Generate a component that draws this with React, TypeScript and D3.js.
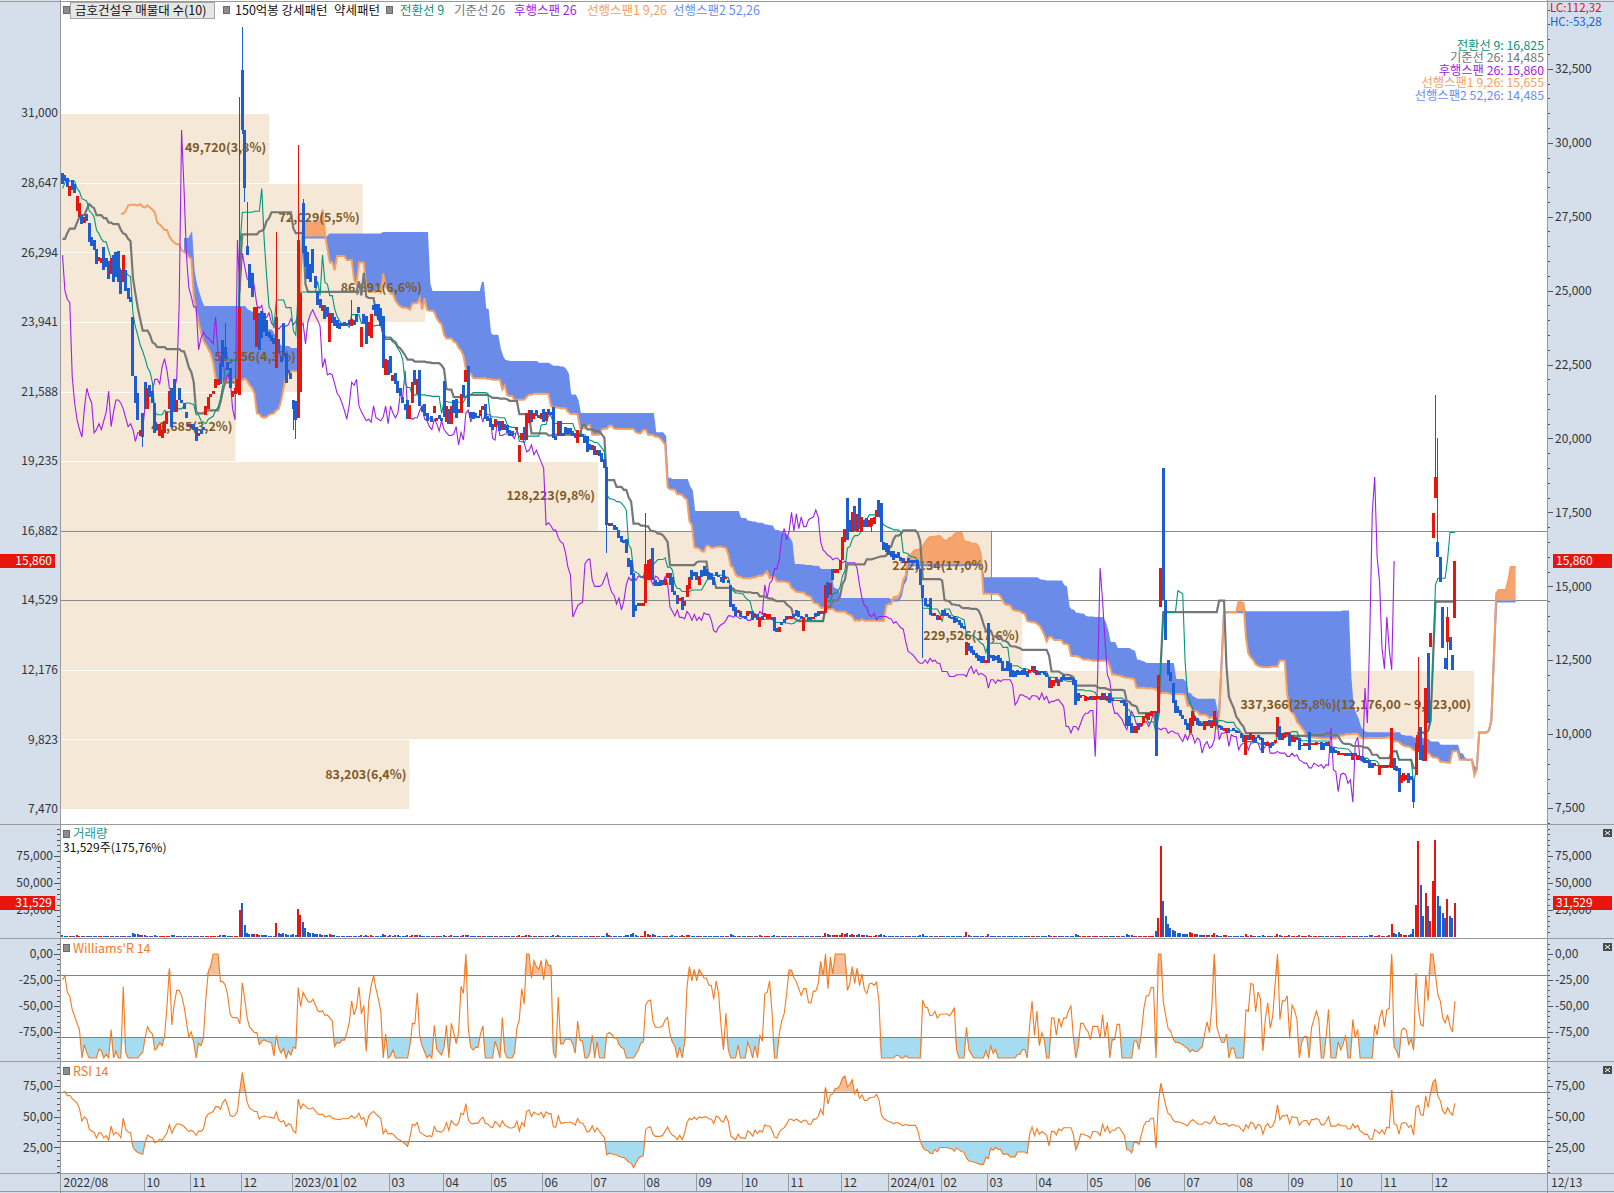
import React, { useEffect, useMemo } from 'react';
import * as d3 from 'd3';

type Pair = [number, number];

// ---------------- DATA ----------------
// 26 trading days before the visible window (needed by the indicators)
const preBars: Pair[] = [
  [24800,24500],[24500,24300],[24300,24700],[24700,25100],[25100,25300],[25300,25000],[25000,25400],[25400,25800],[25800,26100],[26100,25900],
  [25900,26300],[26300,26700],[26700,27000],[27000,26800],[26800,27300],[27300,27600],[27600,27900],[27900,27700],[27700,28100],[28100,28400],
  [28400,28800],[28800,29100],[29100,28700],[28700,28900],[28900,29200],[29200,28950],
];

// [open, close] per trading day, visible index 0-94 (2022/08 - 2022/12)
const bars2022: Pair[] = [
  [28970,28600],[28900,28700],[28800,28500],[28200,28550],[28750,28400],[28600,28300],[27700,28200],[27500,27950],[27550,27250],[27300,27500],
  [27600,27350],[27300,26650],[26800,26500],[26700,26380],[26400,25900],[26000,26150],[25950,26100],[26480,25700],[26100,25800],[26000,25400],
  [25550,26100],[26200,25300],[26300,25450],[26350,25300],[25700,24900],[25300,26200],[25700,25000],[25100,24700],[24800,24600],[24100,22100],
  [22100,21200],[21540,20630],[20100,20300],[20860,20050],[21900,21000],[21000,21700],[21800,21400],[21600,21200],[21200,20190],[20500,20300],
  [20100,20500],[20000,20300],[20200,20600],[20500,20900],[21000,21600],[21700,20400],[22000,20900],[20900,21300],[21700,21300],[21300,21200],
  [21200,21000],[20900,20700],[20500,20400],[20350,20500],[20500,20300],[20400,19900],[20100,20200],[20300,20150],[20400,20300],[20800,21100],
  [21000,21400],[21400,21500],[21500,21600],[21700,22000],[21800,22000],[22550,21850],[23330,22420],[23100,22700],[22600,22300],[22400,21700],
  [21400,21600],[21500,21700],[21550,22000],[21470,24450],[32460,30430],[30430,28470],[26500,26200],[25900,25100],[25600,24800],[24000,24450],
  [23100,24450],[24250,23000],[24300,23400],[24250,23600],[24000,23450],[23600,23400],[23500,23300],[23400,23200],[22380,24110],[23350,22900],
  [22800,22600],[23900,22800],[22900,21860],[22300,22200],[22200,22000],
];

// visible index 95-339 (2023)
const bars2023: Pair[] = [
  [21300,21000],[21270,20630],[20700,26710],[21570,24920],[27970,26270],
  [26500,25800],[26300,25400],[25900,25300],[26400,25600],[25500,25100],[25000,24500],[24700,24400],[24300,24500],[24500,24050],[24450,24100],
  [23260,24250],[24250,23900],[24100,23800],[24000,23750],[23900,23700],[23900,23800],[23950,23800],[23900,23800],[24000,23850],[23800,24050],
  [24000,23850],[24200,23950],[24450,24230],[23100,23770],[24200,23900],[24150,23200],[23450,23950],[23400,24200],[24500,24350],[24550,24150],
  [24550,24000],[24400,23800],[24150,22400],[22150,22700],[22650,22150],[22800,22200],[21950,22150],[22200,21850],[21950,21530],[21700,21420],
  [21400,21200],[21150,20950],[21300,20650],[20650,21130],[21200,21900],[22300,21800],[21500,22000],[22300,21100],[21100,20900],[21150,20750],
  [20850,20600],[20700,20650],[20750,20550],[20850,21100],[20600,20700],[20800,20650],[20700,20600],[21950,20730],[20550,21100],[21000,20500],
  [20500,21100],[21300,20850],[21350,20700],[21000,20850],[20850,21500],[21800,21400],[21900,22300],[22450,21050],[20900,20700],[20900,20650],
  [20850,20700],[20750,20700],[20750,20950],[20950,21100],[21150,20650],[20750,20600],[20700,20400],[20500,20300],[20400,20650],[20600,20500],
  [20600,20250],[20300,20600],[20500,20300],[20450,20200],[20300,20100],[20250,20100],[20200,20150],[20300,20400],[19200,19780],[19950,20200],
  [20400,19950],[19950,20860],[20520,20960],[20950,20550],[20650,20850],[20950,20750],[20800,20700],[20650,20850],[21000,20550],[20600,20900],
  [21000,20800],[20900,20800],[21060,20010],[20100,19950],[20100,20600],[20600,20100],[20200,20100],[20400,20150],[20350,20150],[20350,20150],
  [20250,20100],[20200,20000],[19850,20280],[20150,20050],[20150,20050],[20100,19850],[20100,19550],[19800,19600],[19600,19780],[19750,19450],
  [19450,19600],[19600,19400],[19500,19200],[19300,19000],[19040,17080],[17050,17150],[17150,17050],[17080,16900],[17000,16900],[16900,16650],
  [16700,16500],[16550,16450],[16600,16130],[15950,15650],[15900,15400],[15450,13960],[14370,14150],[14420,14350],[14350,14420],[14330,14450],
  [14450,15760],[15210,15890],[15250,15920],[16300,15210],[15200,15000],[15150,15000],[15200,15000],[15200,15050],[15050,15250],[15280,15450],
  [15450,15050],[15300,14800],[14850,14700],[14700,14400],[14500,14600],[14650,14200],[14350,14500],[14650,15050],[14900,15300],[15550,15200],
  [15500,15350],[15500,15200],[15050,15350],[15550,15300],[15700,15350],[15600,15350],[15500,15250],[15450,15250],[15330,15050],[15500,15350],
  [15400,15300],[15330,15150],[15550,15100],[15250,15330],[15200,15100],[15050,14300],[14400,14150],[14300,14000],[14100,14200],[14150,13950],
  [14000,13950],[14000,13900],[14000,14150],[14150,14050],[14150,13850],[13950,14050],[14050,13850],[13620,13960],[14000,13850],[13950,14100],
  [13900,14050],[13900,14050],[13950,13850],[13950,13500],[13600,13450],[13460,13620],[13800,13700],[13900,13750],[14000,13850],[13900,14000],
  [13900,14000],[14050,13950],[14200,14000],[14150,13950],[14000,13900],[13500,13950],[14050,13950],[13950,13850],[13950,13850],[13900,13950],
  [14100,13950],[14150,14000],[14050,14150],[14150,14050],[14100,15050],[15150,14600],[14700,15100],[15600,15200],[15450,15600],[15450,15600],
  [15550,15900],[15890,16670],[16500,16950],[17980,16570],[17250,16850],[16850,17500],[17700,16870],[16850,17450],[17980,16950],[16850,17350],
  [17250,17020],[17300,17020],[17020,17250],[17050,17300],[17100,17350],[17350,17580],[17920,17340],[17820,16500],[16500,16230],[16450,16150],
];

// visible index 340-573 (2024/01 - 2024/12/13)
const bars2024: Pair[] = [
  [16400,16050],[16200,16000],[16200,15900],[16100,15950],[16150,15950],[16000,15850],[15950,15800],[15800,15850],[15950,15800],[15900,15800],
  [15900,15800],[15900,15800],[15900,15600],[15600,15050],[15040,14600],[14600,14350],[14400,14300],[14600,14030],[14100,13980],[13980,14090],
  [14030,13870],[13870,13980],[14200,13980],[14200,13980],[14090,13980],[14030,13920],[13950,13900],[13980,13750],[13920,13810],[13870,13700],
  [13750,13600],[13650,13550],[12680,13130],[13080,12800],[12970,12740],[12850,12680],[12740,12570],[12680,12460],[12630,12400],[12630,12400],
  [12400,12510],[13750,12400],[12680,12570],[12680,12460],[12630,12510],[12680,12400],[12570,12400],[12460,12120],[12230,12120],[12460,12120],
  [12400,11950],[12180,11950],[12120,11950],[12180,12010],[12120,12010],[12180,12010],[12230,12010],[12120,11950],[12060,12180],[12120,12290],
  [12290,12060],[12010,12180],[12120,12010],[12120,12060],[12120,12010],[12060,11950],[11950,11560],[11560,11840],[11620,11840],[11950,11720],
  [11620,11840],[11950,11780],[12010,11840],[11950,11840],[11950,11840],[11950,11840],[11890,11670],[11830,10990],[11390,11110],[11220,11330],
  [11280,11330],[11110,11280],[11140,11250],[11300,11170],[11170,11300],[11170,11300],[11200,11280],[11300,11170],[11170,11390],[11390,11170],
  [11110,11280],[11390,11050],[11220,11110],[11160,11110],[11110,11160],[11110,11160],[11160,11050],[11160,10940],[11050,10260],[10600,10260],
  [10370,10040],[10040,10260],[10040,10260],[10370,10150],[10260,10370],[10370,10600],[10540,10710],[10480,10710],[10600,10800],[10700,10800],
  [10770,9250],[10720,12000],[14300,15620],[18990,14540],[14540,13190],[12510,12010],[12100,11800],[11730,11050],[11160,10700],[10940,10710],
  [10830,10600],[10650,10500],[10500,10300],[10370,10150],[10040,10550],[10260,10770],[10430,10600],[10540,10320],[10430,10260],[10370,10260],
  [10150,10430],[10260,10430],[10490,10260],[10200,10430],[10260,10770],[10430,10260],[10320,10200],[10260,10150],[10100,10200],[10030,10200],
  [10200,10030],[10150,10100],[10200,10100],[10150,10030],[10100,10030],[10030,9870],[9980,9750],[9300,9980],[9980,9810],[9810,10030],
  [9750,9980],[9920,9700],[9980,9870],[9920,9810],[9870,9360],[9750,9640],[9590,9750],[9700,9530],[9750,9590],[9700,9810],
  [9920,10580],[10260,9810],[9810,10030],[9860,10030],[9980,10090],[10030,9590],[9750,9980],[9750,9920],[9810,9920],[9870,9470],
  [9590,9640],[9590,9700],[9600,9700],[10070,9470],[9640,9700],[9640,9700],[9640,9750],[9670,9700],[9750,9470],[9700,9470],
  [9750,9590],[9590,9750],[9590,9360],[9530,9360],[9470,9360],[9300,9420],[9300,9360],[9300,9360],[9250,9360],[9360,9250],
  [9360,9250],[9130,9360],[9360,9250],[9130,9300],[9250,9130],[9250,9080],[9190,9020],[9130,9020],[9130,8860],[9020,8860],
  [8910,9020],[8910,8970],[8630,8910],[8850,8970],[8970,8850],[8850,8970],[8900,8950],[8860,10210],[9190,8800],[8910,8740],
  [8860,8060],[8350,8630],[8400,8680],[8460,8630],[8680,8340],[8600,8450],[8450,7700],[8620,9700],[9600,9900],[10240,9130],
  [9640,9080],[9080,11560],[12740,10380],[12950,13420],[16640,17480],[17990,18700],[16500,15990],[15990,15150],[14300,12910],[12570,12210],
  [13120,13960],[13290,12850],[12680,12170],[13930,15860],
];

// [visible index, high, low] for candles whose wicks reach beyond the body
const wickExtremes: [number, number, number][] = [
  [33,20860,19700],[67,23900,22700],[73,31550,21470],[74,33900,30300],[75,30430,28000],[76,28000,26200],
  [88,26990,22380],[95,21300,20300],[96,21270,19990],[97,29920,20700],[99,28100,26270],[119,24680,23800],
  [224,19040,16130],[240,17480,14450],[333,17300,16850],[354,15040,12570],[453,19000,14540],
  [556,8450,7500],[557,9980,8620],[558,12610,9400],[565,21470,17990],[566,20020,15990],[570,14300,12170],
];

// daily volume (shares), visible index 0-573
const volume2022: number[] = [
  1800,1500,1400,1600,1300,1200,1700,1500,1400,1300, 1200,1600,1300,1200,1500,1100,1000,1400,1200,1300,
  1500,1300,1200,1400,1600,1500,1300,1200,1100,3800, 3200,2600,1800,2200,1900,1600,1400,1300,1900,1500,
  1400,1300,1200,1300,1600,2100,2000,1500,1300,1100, 1000,1100,1200,1000,1100,1500,1000,900,1000,1400,
  1500,1200,1000,1300,1200,1700,2300,2000,1500,1600, 1400,1300,1500,25000,31500,11000,4200,3400,3200,2600,
  3500,2400,2000,1900,1800,1600,1500,1400,13000,4200, 3000,3600,2800,2000,1800,
];
const volume2023: number[] = [
  2600,2400,26000,21000,14000,
  8200,5000,4000,3600,3000,3200,2600,2200,2400,2000, 3400,2100,1800,1600,1500,1400,1300,1300,1200,1500,
  1300,1400,1200,1800,1500,2000,1600,1700,1400,1300, 1400,1500,3200,2200,1600,1800,1500,1700,1800,1500,
  1400,1500,1800,1600,2000,1700,1800,2200,1500,1400, 1300,1200,1300,1500,1200,1100,1200,2200,1600,1500,
  1700,1500,1600,1300,1600,1700,1800,2400,1500,1300, 1200,1100,1300,1300,1500,1200,1300,1200,1400,1100,
  1300,1300,1100,1200,1100,1000,1000,1100,2000,1500, 1400,2200,1900,1500,1300,1200,1100,1200,1500,1300,
  1200,1100,2300,1500,1700,1500,1200,1200,1100,1100, 1000,1100,1500,1000,1000,1200,1500,1200,1100,1300,
  1100,1200,1400,1600,4200,2000,1500,1400,1300,1500, 1500,1400,2200,2400,2600,3800,2000,1500,1400,1600,
  5500,3000,2200,2600,1800,1500,1400,1300,1400,1500, 1600,1700,1500,1600,1300,1700,1400,1800,1900,1600,
  1400,1500,1500,1400,1500,1300,1300,1200,1300,1200, 1100,1200,1400,1100,1100,2600,1800,1600,1300,1400,
  1200,1200,1300,1100,1400,1200,1300,1900,1200,1300, 1200,1200,1100,1800,1400,1300,1100,1000,1100,1200,
  1100,1000,1200,1100,1000,1600,1000,1000,900,1000, 1100,1000,1100,1000,3800,2600,2400,2200,1800,1700,
  2000,3600,3000,4200,2400,2600,2500,2400,3000,2200, 1800,1700,1500,1600,1500,1700,2200,3000,1800,1500,
];
const volume2024: number[] = [
  1400,1300,1400,1200,1200,1100,1100,1000,1100,1000, 1000,1000,1200,1800,2800,1600,1300,1500,1200,1100,
  1100,1000,1200,1100,1000,1000,900,1100,1000,1000, 1100,1000,4800,1800,1500,1200,1300,1200,1200,1100,
  1000,2600,1300,1200,1100,1200,1100,1500,1100,1200, 1500,1100,1000,1000,900,900,1000,1100,1000,1100,
  1100,1000,900,900,900,1000,1800,1500,1200,1100, 1100,1000,1000,900,900,900,1200,2800,1800,1300,
  1100,1200,1000,1000,1100,1000,900,1000,1200,1100, 1000,1400,1100,900,900,1000,1000,1300,3200,2000,
  1800,1500,1400,1200,1300,1500,1600,1400,1500,1400, 6200,18000,84000,33700,19400,12000,8200,6500,5500,4400,
  3800,3000,3400,2800,5000,4200,3200,2600,2200,2000, 2400,2000,1900,2100,3800,2200,1600,1500,1700,1800,
  1500,1400,1300,1400,1200,1500,1600,2800,1600,1700, 1500,1300,1200,1300,2200,1400,1300,1200,1200,1200,
  3400,2200,1600,1500,1400,2000,1500,1300,1200,1900, 1300,1200,1200,2000,1200,1100,1100,1200,1500,1400,
  1300,1300,1500,1400,1300,1200,1100,1100,1200,1100, 1100,1300,1100,1300,1200,1400,1500,1300,1900,1700,
  1400,1300,2200,1600,1500,1500,2000,12000,4000,3000, 5200,2600,2200,2000,2500,3200,8000,30000,89000,48000,
  20000,40700,28700,15000,52000,89500,38000,28700,22000,18000, 35000,20000,17938,31529,
];

const monthLabels = ['2022/08','10','11','12','2023/01','02','03','04','05','06','07','08','09','10','11','12',
  '2024/01','02','03','04','05','06','07','08','09','10','11','12'];
const monthStart = [0,34,53,74,95,115,135,157,177,198,218,240,261,280,299,321,340,362,381,401,422,442,462,484,505,525,543,564];

// volume profile (매물대), 10 price bands from bottom to top
const profileEdges = [7470, 9823, 12176, 14529, 16882, 19235, 21588, 23941, 26294, 28647, 31000];
const profileVolumes = [83203, 337366, 229526, 222134, 128223, 41685, 56756, 86891, 72029, 49720];
const profileLabels = ['83,203(6,4%)', '337,366(25,8%)(12,176,00 ~ 9,823,00)', '229,526(17,6%)', '222,134(17,0%)',
  '128,223(9,8%)', '41,685(3,2%)', '56,756(4,3%)', '86,891(6,6%)', '72,029(5,5%)', '49,720(3,8%)'];

const ichimokuLegend = [
  { text: '전환선 9: 16,825', color: '#00977a' },
  { text: '기준선 26: 14,485', color: '#767676' },
  { text: '후행스팬 26: 15,860', color: '#a020e8' },
  { text: '선행스팬1 9,26: 15,655', color: '#f4a064' },
  { text: '선행스팬2 52,26: 14,485', color: '#6a8cf0' },
];

// top legend items: [text, color, x]
const topLegend: [string, string, number][] = [
  ['150억봉 강세패턴', '#111', 235],
  ['약세패턴', '#111', 334],
  ['전환선 9', '#00977a', 400],
  ['기준선 26', '#767676', 454],
  ['후행스팬 26', '#a020e8', 514],
  ['선행스팬1 9,26', '#f4a064', 587],
  ['선행스팬2 52,26', '#6a8cf0', 673],
];

// ---------------- LAYOUT ----------------
const W = 1614, H = 1193;
const PL = 61, PR = 1547;
const MAIN_T = 2, MAIN_B = 824;
const VOL_T = 825, VOL_B = 938;
const WR_T = 939, WR_B = 1061;
const RSI_T = 1062, RSI_B = 1173;
const AX_T = 1174, AX_B = 1192;

const FONT = "'Noto Sans CJK KR','Noto Sans',sans-serif";
const RED = '#e8150c';
const BLUE = '#1c5ecf';
const AXIS_BG = '#d5dfec';
const BORDER = '#9a9a9a';
const TXT = '#333';
const IND = '#f57a1f';

function buildModel() {
  const all = [...preBars, ...bars2022, ...bars2023, ...bars2024];
  const N0 = preBars.length;
  const n = all.length;
  const NV = n - N0;
  const O = all.map(b => b[0]);
  const C = all.map(b => b[1]);
  const Hh = all.map(b => Math.max(b[0], b[1]));
  const Ll = all.map(b => Math.min(b[0], b[1]));
  for (const [v, h, l] of wickExtremes) {
    Hh[N0 + v] = Math.max(Hh[N0 + v], h);
    Ll[N0 + v] = Math.min(Ll[N0 + v], l);
  }
  const vols = [...volume2022, ...volume2023, ...volume2024];
  const mid = (p: number, i: number): number | null => {
    if (i < p - 1) return null;
    let hh = -Infinity, ll = Infinity;
    for (let k = i - p + 1; k <= i; k++) { if (Hh[k] > hh) hh = Hh[k]; if (Ll[k] < ll) ll = Ll[k]; }
    return (hh + ll) / 2;
  };
  const tenkan: [number, number][] = [];
  const kijun: [number, number][] = [];
  for (let v = 0; v < NV; v++) {
    const t = mid(9, N0 + v); const k = mid(26, N0 + v);
    if (t != null) tenkan.push([v, t]);
    if (k != null) kijun.push([v, k]);
  }
  const span1: [number, number][] = [];
  const span2: [number, number][] = [];
  const cloud: { v: number; s1: number; s2: number }[] = [];
  for (let i = 0; i < n; i++) {
    const v = i - N0 + 25;
    if (v < 0) continue;
    const t = mid(9, i), k = mid(26, i), s = mid(52, i);
    const s1 = t != null && k != null ? (t + k) / 2 : null;
    if (s1 != null) span1.push([v, s1]);
    if (s != null) span2.push([v, s]);
    if (s1 != null && s != null) cloud.push({ v, s1, s2: s });
  }
  const lagging: [number, number][] = [];
  for (let i = 0; i < n; i++) {
    const v = i - N0 - 25;
    if (v >= 0) lagging.push([v, C[i]]);
  }
  const wr: [number, number][] = [];
  for (let v = 0; v < NV; v++) {
    const i = N0 + v;
    let hh = -Infinity, ll = Infinity;
    for (let k = i - 13; k <= i; k++) { if (Hh[k] > hh) hh = Hh[k]; if (Ll[k] < ll) ll = Ll[k]; }
    wr.push([v, hh === ll ? -50 : ((hh - C[i]) / (hh - ll)) * -100]);
  }
  const rsi: [number, number][] = [];
  let ag = 0, al = 0;
  for (let i = 1; i <= 14; i++) { const d = C[i] - C[i - 1]; if (d > 0) ag += d; else al -= d; }
  ag /= 14; al /= 14;
  const rsiFull: number[] = [];
  rsiFull[14] = al === 0 ? 100 : 100 - 100 / (1 + ag / al);
  for (let i = 15; i < n; i++) {
    const d = C[i] - C[i - 1];
    ag = (ag * 13 + (d > 0 ? d : 0)) / 14;
    al = (al * 13 + (d < 0 ? -d : 0)) / 14;
    rsiFull[i] = al === 0 ? 100 : 100 - 100 / (1 + ag / al);
  }
  for (let v = 0; v < NV; v++) rsi.push([v, rsiFull[N0 + v]]);
  return { N0, NV, O, C, Hh, Ll, vols, tenkan, kijun, span1, span2, cloud, lagging, wr, rsi };
}

const fmtInt = d3.format(',');
const fmtDec = (v: number) => v.toFixed(2).replace('.', ',');

export default function App() {
  useEffect(() => { document.body.style.margin = '0'; }, []);
  const m = useMemo(buildModel, []);
  const { N0, NV, O, C, Hh, Ll, vols } = m;

  const xS = d3.scaleLinear().domain([0, 100]).range([62.5, 62.5 + 243]);
  const yP = d3.scaleLinear().domain([7470, 31000]).range([809, 113.2]);
  const yV = d3.scaleLinear().domain([0, 75000]).range([937.3, 856]);
  const yW = d3.scaleLinear().domain([0, -100]).range([954, 1058]);
  const yR = d3.scaleLinear().domain([25, 75]).range([1147.3, 1085.7]);

  const lineP = d3.line<[number, number]>().x(d => xS(d[0])).y(d => yP(d[1]));
  const orangeCloud = d3.area<{ v: number; s1: number; s2: number }>()
    .x(d => xS(d.v)).y0(d => yP(d.s2)).y1(d => yP(Math.max(d.s1, d.s2)));
  const blueCloud = d3.area<{ v: number; s1: number; s2: number }>()
    .x(d => xS(d.v)).y0(d => yP(d.s1)).y1(d => yP(Math.max(d.s1, d.s2)));

  const lineW = d3.line<[number, number]>().x(d => xS(d[0])).y(d => yW(d[1]));
  const wrLow = d3.area<[number, number]>().x(d => xS(d[0])).y0(yW(-80)).y1(d => yW(Math.min(d[1], -80)));
  const wrHigh = d3.area<[number, number]>().x(d => xS(d[0])).y0(yW(-20)).y1(d => yW(Math.max(d[1], -20)));
  const lineR = d3.line<[number, number]>().x(d => xS(d[0])).y(d => yR(d[1]));
  const rsiLow = d3.area<[number, number]>().x(d => xS(d[0])).y0(yR(30)).y1(d => yR(Math.min(d[1], 30)));
  const rsiHigh = d3.area<[number, number]>().x(d => xS(d[0])).y0(yR(70)).y1(d => yR(Math.max(d[1], 70)));

  const lastClose = C[C.length - 1];
  const curBand = profileEdges.findIndex((e, k) => k < profileEdges.length - 1 && lastClose >= e && lastClose < profileEdges[k + 1]);
  const maxPV = d3.max(profileVolumes) as number;
  const pW = (v: number) => (v / maxPV) * (1474 - PL);

  const candles = d3.range(NV).map(v => {
    const i = N0 + v;
    const o = O[i], c = C[i];
    const col = c >= o ? RED : BLUE;
    const bx = Math.round(xS(v) - 1.5);
    const top = Math.round(yP(Math.max(o, c)));
    const bot = Math.round(yP(Math.min(o, c)));
    const wt = Math.round(yP(Hh[i]));
    const wb = Math.round(yP(Ll[i]));
    return (
      <g key={v}>
        {(wt < top || wb > bot) && <rect x={bx + 1} y={wt} width={1} height={Math.max(1, wb - wt)} fill={col} />}
        <rect x={bx} y={top} width={3} height={Math.max(1, bot - top)} fill={col} />
      </g>
    );
  });

  const volBars = d3.range(NV).map(v => {
    const i = N0 + v;
    const col = C[i] >= O[i] ? RED : BLUE;
    const bx = Math.round(xS(v) - 1.2);
    const top = Math.round(yV(vols[v] || 0));
    const base = Math.round(yV(0));
    return <rect key={v} x={bx} y={top} width={2} height={Math.max(1, base - top)} fill={col} />;
  });

  const rightAxis = (scale: (v: number) => number, majors: number[], minors: number[], fmt: (v: number) => string, t: number, b: number, key: string) => (
    <g key={key}>
      {minors.filter(v => scale(v) > t + 1 && scale(v) < b - 1).map(v => (
        <line key={'mi' + v} x1={PR} x2={PR + 3} y1={Math.round(scale(v)) + 0.5} y2={Math.round(scale(v)) + 0.5} stroke="#555" />
      ))}
      {majors.map(v => (
        <g key={'ma' + v}>
          <line x1={PR} x2={PR + 6} y1={Math.round(scale(v)) + 0.5} y2={Math.round(scale(v)) + 0.5} stroke="#555" />
          <text x={PR + 8} y={scale(v)} dy="0.35em" fontSize={12} fill={TXT}>{fmt(v)}</text>
        </g>
      ))}
    </g>
  );
  const leftAxis = (scale: (v: number) => number, majors: number[], minors: number[], fmt: (v: number) => string, t: number, b: number, key: string) => (
    <g key={key}>
      {minors.filter(v => scale(v) > t + 1 && scale(v) < b - 1).map(v => (
        <line key={'mi' + v} x1={PL - 4} x2={PL} y1={Math.round(scale(v)) + 0.5} y2={Math.round(scale(v)) + 0.5} stroke="#555" />
      ))}
      {majors.map(v => (
        <g key={'ma' + v}>
          <line x1={PL - 7} x2={PL} y1={Math.round(scale(v)) + 0.5} y2={Math.round(scale(v)) + 0.5} stroke="#555" />
          <text x={PL - 8} y={scale(v)} dy="0.35em" fontSize={12} fill={TXT} textAnchor="end">{fmt(v)}</text>
        </g>
      ))}
    </g>
  );

  const closeBtn = (y: number, key: string) => (
    <g key={key}>
      <rect x={1603} y={y} width={9} height={8} fill="#4a4a4a" />
      <path d={`M${1605},${y + 2}L${1610},${y + 6}M${1610},${y + 2}L${1605},${y + 6}`} stroke="#fff" strokeWidth={1} />
    </g>
  );

  const legendSq = (x: number, y: number) => <rect x={x + 0.5} y={y + 0.5} width={6} height={7} fill="#8e8e8e" stroke="#6a6a6a" />;

  const lastVol = vols[NV - 1];

  return (
    <svg width={W} height={H} style={{ position: 'absolute', left: 0, top: 0, display: 'block' }} fontFamily={FONT}>
      <defs>
        <clipPath id="cMain"><rect x={PL} y={MAIN_T} width={PR - PL} height={MAIN_B - MAIN_T} /></clipPath>
        <clipPath id="cVol"><rect x={PL} y={VOL_T} width={PR - PL} height={VOL_B - VOL_T} /></clipPath>
        <clipPath id="cWR"><rect x={PL} y={WR_T} width={PR - PL} height={WR_B - WR_T} /></clipPath>
        <clipPath id="cRSI"><rect x={PL} y={RSI_T} width={PR - PL} height={RSI_B - RSI_T} /></clipPath>
      </defs>
      <rect x={0} y={0} width={W} height={H} fill="#fff" />
      {/* axis backgrounds */}
      <rect x={0} y={0} width={PL} height={H} fill={AXIS_BG} />
      <rect x={PR} y={0} width={W - PR} height={H} fill={AXIS_BG} />
      <rect x={0} y={AX_T} width={W} height={H - AX_T} fill={AXIS_BG} />

      {/* ---------- MAIN PANEL ---------- */}
      <g clipPath="url(#cMain)">
        {profileVolumes.map((v, k) => {
          const yt = yP(profileEdges[k + 1]);
          const yb = yP(profileEdges[k]);
          return <rect key={k} x={PL} y={Math.round(yt) + 1} width={pW(v)} height={Math.round(yb) - Math.round(yt) - 1} fill="#f5e8d7" />;
        })}
        {curBand >= 0 && (
          <g>
            <line x1={PL} x2={PR} y1={Math.round(yP(profileEdges[curBand + 1])) + 0.5} y2={Math.round(yP(profileEdges[curBand + 1])) + 0.5} stroke="#8a8a8a" />
            <line x1={PL} x2={PR} y1={Math.round(yP(profileEdges[curBand])) + 0.5} y2={Math.round(yP(profileEdges[curBand])) + 0.5} stroke="#8a8a8a" />
            <line x1={Math.round(PL + pW(profileVolumes[curBand])) + 0.5} x2={Math.round(PL + pW(profileVolumes[curBand])) + 0.5}
              y1={yP(profileEdges[curBand + 1])} y2={yP(profileEdges[curBand])} stroke="#8a8a8a" />
          </g>
        )}
        <path d={orangeCloud(m.cloud) || ''} fill="#f5a46e" />
        <path d={blueCloud(m.cloud) || ''} fill="#6b8be9" />
        <path d={lineP(m.span2) || ''} fill="none" stroke="#6a8cf0" strokeWidth={2} />
        <path d={lineP(m.span1) || ''} fill="none" stroke="#f4a064" strokeWidth={2} />
        {profileVolumes.map((v, k) => (
          <text key={'pl' + k} x={PL + pW(v) - 3} y={(yP(profileEdges[k]) + yP(profileEdges[k + 1])) / 2} dy="0.36em"
            textAnchor="end" fontSize={12.5} fontWeight={600} fill="#7d5a28">{profileLabels[k]}</text>
        ))}
        <path d={lineP(m.lagging) || ''} fill="none" stroke="#a020e8" strokeWidth={1.1} />
        <path d={lineP(m.kijun) || ''} fill="none" stroke="#777" strokeWidth={2.2} />
        <path d={lineP(m.tenkan) || ''} fill="none" stroke="#00977a" strokeWidth={1.1} />
        <g shapeRendering="crispEdges">{candles}</g>
      </g>

      {/* main legend */}
      {legendSq(63, 6)}
      <rect x={70.5} y={2.5} width={144} height={16} fill="#e6e6e6" stroke="#a8a8a8" />
      <text x={75} y={15} fontSize={12.5} fill="#111">금호건설우 매물대 수(10)</text>
      {legendSq(223, 6)}
      {legendSq(386, 6)}
      {topLegend.map(([t, c, x]) => (
        <text key={t} x={x} y={15} fontSize={12.5} fill={c}>{t}</text>
      ))}
      {ichimokuLegend.map((d, k) => (
        <text key={k} x={1544} y={50 + k * 12.4} fontSize={12.3} textAnchor="end" fill={d.color}>{d.text}</text>
      ))}

      {/* main axes */}
      {profileEdges.map(v => (
        <text key={'le' + v} x={58} y={yP(v)} dy="0.35em" fontSize={12} textAnchor="end" fill={TXT}>{fmtInt(v)}</text>
      ))}
      {rightAxis(yP, d3.range(7500, 32501, 2500), d3.range(7000, 34600, 500), fmtInt, MAIN_T, MAIN_B, 'ra')}
      <text x={1550} y={12} fontSize={11.5} fill="#e01010">LC:112,32</text>
      <text x={1550} y={25.5} fontSize={11.5} fill="#1060e0">HC:-53,28</text>
      <rect x={0} y={Math.round(yP(lastClose)) - 7} width={55} height={14} fill={RED} />
      <text x={52} y={yP(lastClose)} dy="0.36em" fontSize={12} fill="#fff" textAnchor="end">{fmtInt(lastClose)}</text>
      <rect x={1553} y={Math.round(yP(lastClose)) - 7} width={59} height={14} fill={RED} />
      <text x={1556} y={yP(lastClose)} dy="0.36em" fontSize={12} fill="#fff">{fmtInt(lastClose)}</text>

      {/* ---------- VOLUME ---------- */}
      <g clipPath="url(#cVol)" shapeRendering="crispEdges">{volBars}</g>
      {legendSq(63, 830)}
      <text x={73} y={838} fontSize={12.5} fill="#2a9494">거래량</text>
      <text x={63} y={851.5} fontSize={12} fill="#111">{fmtInt(lastVol)}주(175,76%)</text>
      {leftAxis(yV, [25000, 50000, 75000], d3.range(0, 100001, 5000), fmtInt, VOL_T, VOL_B, 'lv')}
      {rightAxis(yV, [25000, 50000, 75000], d3.range(0, 100001, 5000), fmtInt, VOL_T, VOL_B, 'rv')}
      <rect x={0} y={Math.round(yV(lastVol)) - 7} width={55} height={14} fill={RED} />
      <text x={52} y={yV(lastVol)} dy="0.36em" fontSize={12} fill="#fff" textAnchor="end">{fmtInt(lastVol)}</text>
      <rect x={1553} y={Math.round(yV(lastVol)) - 7} width={59} height={14} fill={RED} />
      <text x={1556} y={yV(lastVol)} dy="0.36em" fontSize={12} fill="#fff">{fmtInt(lastVol)}</text>

      {/* ---------- WILLIAMS %R ---------- */}
      <g clipPath="url(#cWR)">
        <path d={wrLow(m.wr) || ''} fill="#a6dcf2" />
        <path d={wrHigh(m.wr) || ''} fill="#f6bf98" />
        <line x1={PL} x2={PR} y1={Math.round(yW(-20)) + 0.5} y2={Math.round(yW(-20)) + 0.5} stroke="#808080" />
        <line x1={PL} x2={PR} y1={Math.round(yW(-80)) + 0.5} y2={Math.round(yW(-80)) + 0.5} stroke="#808080" />
        <path d={lineW(m.wr) || ''} fill="none" stroke={IND} strokeWidth={1.1} />
      </g>
      {legendSq(63, 944)}
      <text x={73} y={952.5} fontSize={12.5} fill={IND}>Williams'R 14</text>
      {leftAxis(yW, [0, -25, -50, -75], d3.range(-100, 11, 5), fmtDec, WR_T, WR_B, 'lw')}
      {rightAxis(yW, [0, -25, -50, -75], d3.range(-100, 11, 5), fmtDec, WR_T, WR_B, 'rw')}

      {/* ---------- RSI ---------- */}
      <g clipPath="url(#cRSI)">
        <path d={rsiLow(m.rsi) || ''} fill="#a6dcf2" />
        <path d={rsiHigh(m.rsi) || ''} fill="#f6bf98" />
        <line x1={PL} x2={PR} y1={Math.round(yR(70)) + 0.5} y2={Math.round(yR(70)) + 0.5} stroke="#808080" />
        <line x1={PL} x2={PR} y1={Math.round(yR(30)) + 0.5} y2={Math.round(yR(30)) + 0.5} stroke="#808080" />
        <path d={lineR(m.rsi) || ''} fill="none" stroke={IND} strokeWidth={1.1} />
      </g>
      {legendSq(63, 1067)}
      <text x={73} y={1075.5} fontSize={12.5} fill={IND}>RSI 14</text>
      {leftAxis(yR, [25, 50, 75], d3.range(5, 96, 5), fmtDec, RSI_T, RSI_B, 'lr')}
      {rightAxis(yR, [25, 50, 75], d3.range(5, 96, 5), fmtDec, RSI_T, RSI_B, 'rr')}

      {closeBtn(829, 'b1')}
      {closeBtn(943, 'b2')}
      {closeBtn(1066, 'b3')}

      {/* ---------- X AXIS ---------- */}
      {monthStart.map((idx, k) => {
        const x = Math.round(xS(idx) - 1.2) + 0.5;
        return (
          <g key={'m' + k}>
            {k > 0 && <line x1={x} x2={x} y1={AX_T} y2={AX_B} stroke={BORDER} />}
            <text x={x + 2} y={1187} fontSize={12} fill={TXT}>{monthLabels[k]}</text>
          </g>
        );
      })}
      <text x={1551} y={1187} fontSize={12} fill={TXT}>12/13</text>

      {/* ---------- FRAME ---------- */}
      <g stroke={BORDER} fill="none" shapeRendering="crispEdges">
        <line x1={0} x2={W} y1={1.5} y2={1.5} />
        <line x1={0} x2={W} y1={824.5} y2={824.5} />
        <line x1={0} x2={W} y1={938.5} y2={938.5} />
        <line x1={0} x2={W} y1={1061.5} y2={1061.5} />
        <line x1={0} x2={W} y1={1173.5} y2={1173.5} />
        <line x1={0} x2={W} y1={1191.5} y2={1191.5} />
        <line x1={60.5} x2={60.5} y1={0} y2={H} />
        <line x1={1547.5} x2={1547.5} y1={0} y2={H} />
      </g>
    </svg>
  );
}
